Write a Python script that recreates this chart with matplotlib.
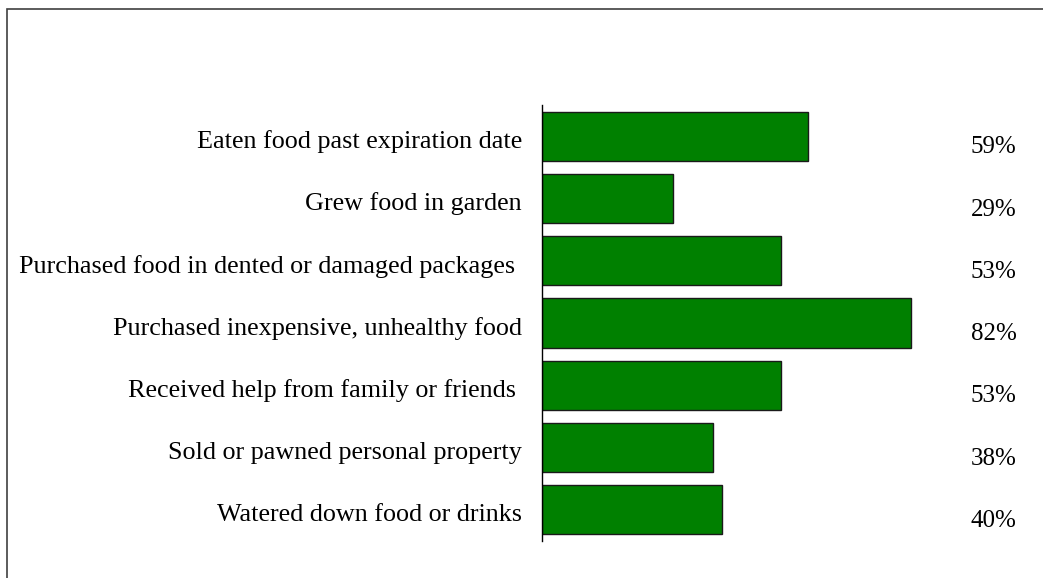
import matplotlib
matplotlib.use("Agg")
import matplotlib.pyplot as plt
from matplotlib.patches import Rectangle
from matplotlib.transforms import ScaledTranslation

categories = [
    "Eaten food past expiration date",
    "Grew food in garden",
    "Purchased food in dented or damaged packages ",
    "Purchased inexpensive, unhealthy food",
    "Received help from family or friends ",
    "Sold or pawned personal property",
    "Watered down food or drinks",
]
values = [59, 29, 53, 82, 53, 38, 40]
labels = ["59%", "29%", "53%", "82%", "53%", "38%", "40%"]

plt.rcParams['font.family'] = ['Liberation Serif', 'DejaVu Serif']

fig = plt.figure(figsize=(10.43, 5.78), dpi=100)
ax = fig.add_axes([542/1043, 1 - 541/578, 450/1043, 436/578])

pos = list(range(len(categories)))
ax.barh(pos, values, height=0.787, color='#008000', edgecolor='#1a1a1a', linewidth=1.0)

ax.set_xlim(0, 100)
ax.set_ylim(len(categories) - 0.5, -0.5)
ax.set_yticks(pos)
ax.set_yticklabels(categories, fontsize=18.8)
ax.tick_params(axis='y', length=0, pad=14.4)
ax.set_xticks([])
for s in ['top', 'right', 'bottom']:
    ax.spines[s].set_visible(False)
ax.spines['left'].set_linewidth(1.0)

# labels sit a little below the bar centre in the original
shift = ScaledTranslation(0, -0.03, fig.dpi_scale_trans)
for t in ax.get_yticklabels():
    t.set_transform(t.get_transform() + shift)

for i, lab in enumerate(labels):
    ax.text(95.3, i + 0.18, lab, fontsize=18, ha='left', va='center', clip_on=False)

# outer frame
fig.patches.append(Rectangle((7/1043, -0.1), 1.2, 1 - 9/578 + 0.1, transform=fig.transFigure,
                             fill=False, edgecolor='#404040', linewidth=1.2))

fig.savefig("out.png", dpi=100)
